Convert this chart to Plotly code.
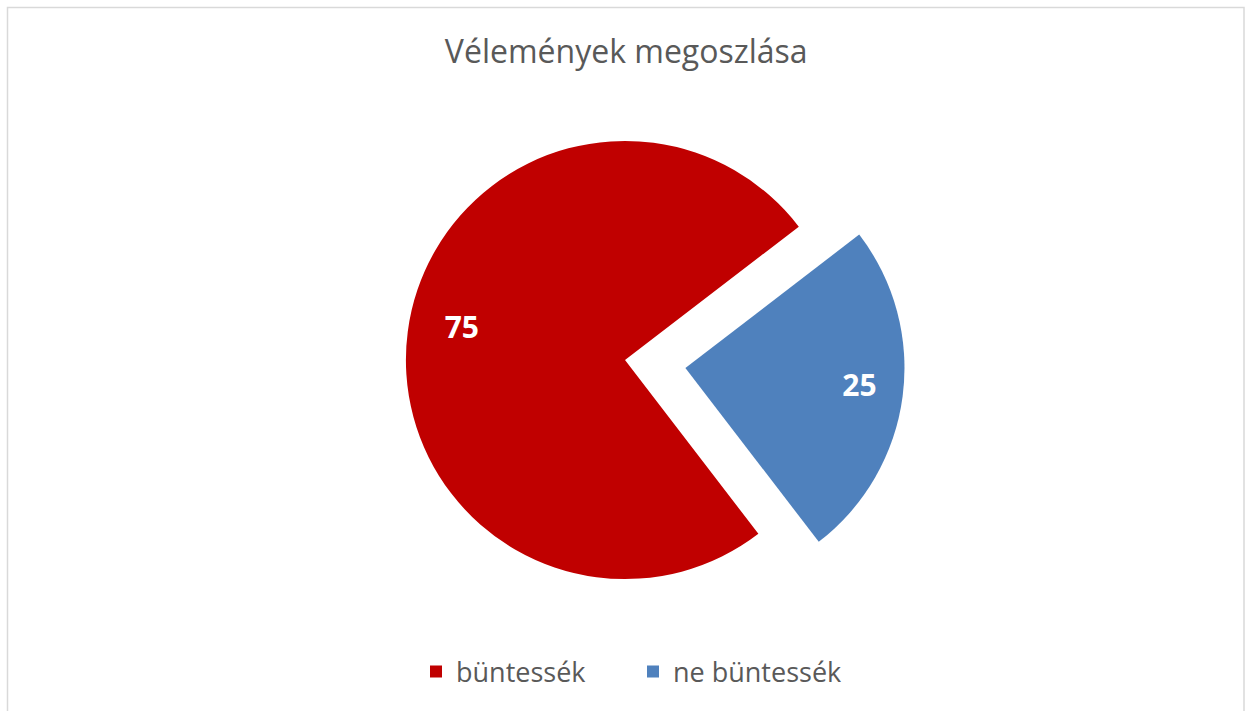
import plotly.graph_objects as go

labels = ["büntessék", "ne büntessék"]
values = [75, 25]
colors = ["#C00000", "#4F81BD"]
pulls = [0, 0.278]

NB = "\u00a0"
label_templates = ["%{value}" + NB * 14 + "<br>" + NB,
                   NB * 12 + "%{value}"]

W, H = 1245, 711
ML, MR, MT, MB = 5, 0, 80, 71
pw, ph = W - ML - MR, H - MT - MB

fig = go.Figure(go.Pie(
    labels=labels, values=values, sort=False, direction="clockwise",
    rotation=142.5, pull=pulls,
    marker=dict(colors=colors, line=dict(width=0)),
    texttemplate=label_templates, textposition="inside", insidetextorientation="horizontal",
    textfont=dict(family="Open Sans", size=30, color="white", weight="bold"),
    hoverinfo="label+value+percent",
))

def px_x(p):
    return (p - ML) / pw

def px_y(p):
    return 1 - (p - MT) / ph

fig.update_layout(
    width=W, height=H,
    margin=dict(l=ML, r=MR, t=MT, b=MB),
    paper_bgcolor="white", plot_bgcolor="white",
    title=dict(text="Vélemények megoszlása", x=0.503, xanchor="center",
               y=1 - 52 / H, yanchor="middle",
               font=dict(family="Open Sans", size=32, color="#595959")),
    legend=dict(orientation="h", x=px_x(416), xanchor="left", y=px_y(672), yanchor="middle",
                font=dict(family="Open Sans", size=27, color="#595959"),
                entrywidth=172, entrywidthmode="pixels",
                traceorder="normal"),
    shapes=[dict(type="rect", xref="paper", yref="paper",
                 x0=px_x(7.5), x1=px_x(1244), y0=px_y(720), y1=px_y(7.5),
                 line=dict(color="#D9D9D9", width=1.5), fillcolor="rgba(0,0,0,0)", layer="below")],
)

fig.write_html("out.html", config={"displayModeBar": False},
               post_script="document.body.style.margin='0';")
